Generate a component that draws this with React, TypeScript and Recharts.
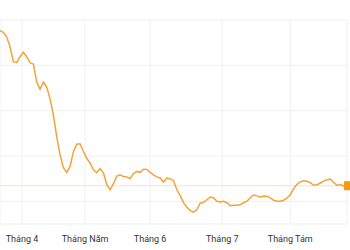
import { CartesianGrid, Line, LineChart, ReferenceLine, XAxis, YAxis } from "recharts";

// closing prices, one point per sample step, oldest first
const prices = [
  28.53, 28.46, 28.26, 27.82, 27.16, 27.12, 27.38, 27.58, 27.38, 27.12,
  27.06, 26.27, 25.95, 26.26, 26.04, 25.52, 24.81, 23.85, 23.05, 22.48,
  22.28, 22.54, 23.19, 23.52, 23.54, 23.2, 22.9, 22.69, 22.39, 22.26,
  22.44, 22.26, 21.73, 21.51, 21.78, 22.11, 22.17, 22.1, 22.08, 22.0,
  22.22, 22.32, 22.28, 22.42, 22.41, 22.28, 22.17, 22.08, 22.03, 21.85,
  22.03, 22.0, 21.91, 21.51, 21.25, 20.94, 20.74, 20.59, 20.52, 20.63,
  20.92, 20.96, 21.07, 21.19, 21.16, 21.0, 20.97, 21.0, 20.94, 20.81,
  20.83, 20.83, 20.85, 20.94, 21.0, 21.16, 21.28, 21.24, 21.18, 21.23,
  21.22, 21.15, 21.05, 21.0, 21.0, 21.05, 21.14, 21.29, 21.56, 21.75,
  21.86, 21.91, 21.89, 21.82, 21.71, 21.73, 21.81, 21.89, 21.95, 21.98,
  21.84, 21.7, 21.74, 21.67, 21.69,
];

const monthTicks = [6.6, 25.5, 45, 66.6, 87];
const monthLabels = ["Tháng 4", "Tháng Năm", "Tháng 6", "Tháng 7", "Tháng Tám"];
const yTicks = [20, 21, 22, 23, 24, 25, 26, 27, 28, 29];

const data = prices.map((price, i) => ({ i, price }));
const lastPrice = prices[prices.length - 1];

const LastDot = (props: any) => {
  const { cx, cy, index } = props;
  if (index !== prices.length - 1) return null;
  return <rect x={cx - 3} y={cy - 4.5} width={7} height={9} fill="#f39c12" />;
};

export default function App() {
  return (
    <div style={{ position: "absolute", left: 0, top: 0 }}>
      <LineChart
        width={350}
        height={250}
        data={data}
        margin={{ top: 20, right: 3, left: 0, bottom: 0 }}
      >
        <CartesianGrid stroke="#f0f0f0" />
        <XAxis
          dataKey="i"
          type="number"
          domain={[0, prices.length - 1]}
          ticks={monthTicks}
          tickFormatter={(v) => monthLabels[monthTicks.indexOf(v)]}
          axisLine={false}
          tickLine={false}
          tickSize={6}
          tickMargin={6}
          height={26}
          interval={0}
          tick={{ fontSize: 9, fill: "#333", fontFamily: "Roboto" }}
        />
        <YAxis hide domain={[20, 29]} ticks={yTicks} />
        <ReferenceLine y={lastPrice} stroke="#fbe2bd" strokeWidth={1} />
        <Line
          type="linear"
          dataKey="price"
          stroke="#f2a437"
          strokeWidth={1.5}
          dot={<LastDot />}
          activeDot={false}
          isAnimationActive={false}
        />
      </LineChart>
    </div>
  );
}
